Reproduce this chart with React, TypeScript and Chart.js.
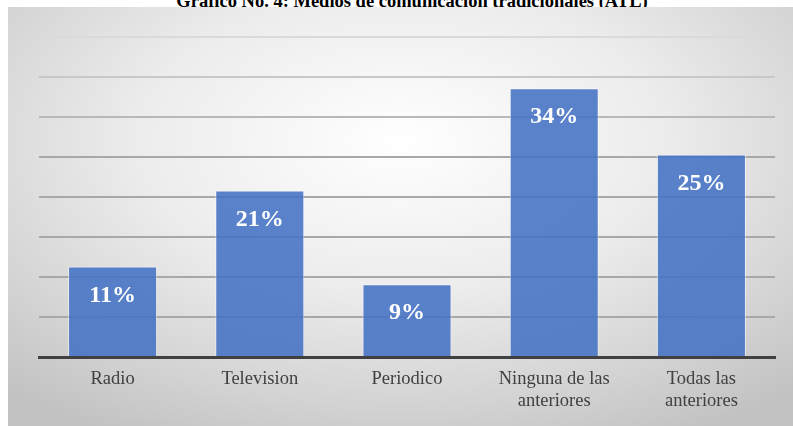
import React, { useEffect, useRef } from "react";
import { Chart, registerables } from "chart.js";

Chart.register(...registerables);

const TITLE = "Grafico No. 4: Medios de comunicación tradicionales (ATL)";
const categories: (string | string[])[] = [
  "Radio",
  "Television",
  "Periodico",
  ["Ninguna de las", "anteriores"],
  ["Todas las", "anteriores"],
];
const values = [11.3, 20.8, 9.1, 33.6, 25.3];
const yMin = 0;
const yMax = 40;
const yStep = 5;

const SERIF = "'Liberation Serif', 'Times New Roman', serif";

const dataLabelPlugin = {
  id: "dataLabels",
  afterDatasetsDraw(chart: any) {
    const ctx = chart.ctx;
    const meta = chart.getDatasetMeta(0);
    ctx.save();
    ctx.fillStyle = "#ffffff";
    ctx.font = `bold 24px ${SERIF}`;
    ctx.textAlign = "center";
    ctx.textBaseline = "alphabetic";
    meta.data.forEach((el: any, i: number) => {
      const v = chart.data.datasets[0].data[i] as number;
      ctx.fillText(`${Math.round(v)}%`, el.x, el.y + 35);
    });
    ctx.restore();
  },
};

export default function App() {
  const ref = useRef<HTMLCanvasElement>(null);
  useEffect(() => {
    let chart: Chart | null = null;
    let cancelled = false;
    const make = () => {
      if (cancelled || !ref.current) return;
      chart = new Chart(ref.current, {
        type: "bar",
        data: {
          labels: categories,
          datasets: [
            {
              data: values,
              backgroundColor: "rgba(68,114,196,0.88)",
              borderColor: "rgba(255,255,255,0.55)",
              borderWidth: 1,
              barPercentage: 0.605,
              categoryPercentage: 1,
            },
          ],
        },
        options: {
          animation: false,
          responsive: true,
          maintainAspectRatio: false,
          layout: { padding: { left: 31, right: 18, top: 30, bottom: 0 } },
          plugins: {
            legend: { display: false },
            tooltip: { enabled: false },
            title: { display: false },
          },
          scales: {
            x: {
              grid: { display: false },
              border: { display: true, color: "#404040", width: 3 },
              ticks: {
                color: "#404040",
                font: { family: SERIF, size: 18.5, lineHeight: 1.2 },
                padding: 3,
                maxRotation: 0,
                autoSkip: false,
              },
              afterFit: (scale: any) => {
                scale.height = 69;
              },
            },
            y: {
              min: yMin,
              max: yMax,
              ticks: { stepSize: yStep, display: false },
              border: { display: false },
              grid: {
                drawTicks: false,
                lineWidth: 2,
                color: (c: any) => {
                  const v = c.tick ? c.tick.value : 0;
                  if (v >= 40) return "#dadada";
                  if (v >= 35) return "#c8c8c8";
                  if (v >= 30) return "#b8b8b8";
                  return "#a8a8a8";
                },
              },
              afterFit: (scale: any) => {
                scale.width = 0;
              },
            },
          },
        },
        plugins: [dataLabelPlugin],
      });
    };
    const fonts = (document as any).fonts;
    if (fonts && fonts.load) {
      Promise.all([
        fonts.load(`18.5px "Liberation Serif"`),
        fonts.load(`bold 24px "Liberation Serif"`),
      ])
        .catch(() => null)
        .then(make);
    } else {
      make();
    }
    return () => {
      cancelled = true;
      if (chart) chart.destroy();
    };
  }, []);

  return (
    <>
      <div
        style={{
          position: "absolute",
          left: 0,
          top: -8.5,
          width: 824,
          textAlign: "center",
          fontFamily: SERIF,
          fontWeight: "bold",
          fontSize: 18.5,
          lineHeight: "18.5px",
          color: "#000",
          whiteSpace: "nowrap",
        }}
      >
        {TITLE}
      </div>
      <div
        style={{
          position: "absolute",
          left: 8,
          top: 7,
          width: 785,
          height: 419,
          overflow: "hidden",
          background:
            "radial-gradient(ellipse 75% 80% at 50% 32%, #ffffff 0%, #ececec 45%, #d2d2d2 80%, #c2c2c2 100%)",
        }}
      >
        <canvas ref={ref} />
      </div>
    </>
  );
}
